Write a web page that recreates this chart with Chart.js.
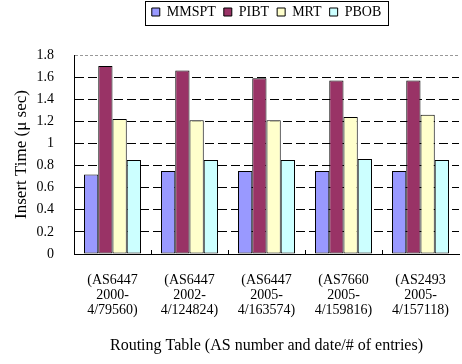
<!DOCTYPE html>
<html>
<head>
<meta charset="utf-8">
<script src="https://cdn.jsdelivr.net/npm/chart.js@4.4.0/dist/chart.umd.min.js"></script>
<style>
  html, body { margin: 0; padding: 0; background: #fff; }
</style>
</head>
<body>
<canvas id="chart" width="462" height="364"></canvas>
<script>
// routing tables on the x axis (one line per array entry)
const tableLabels = [
  ['(AS6447', '2000-', '4/79560)'],
  ['(AS6447', '2002-', '4/124824)'],
  ['(AS6447', '2005-', '4/163574)'],
  ['(AS7660', '2005-', '4/159816)'],
  ['(AS2493', '2005-', '4/157118)']
];

// insert time in micro seconds
const mmspt = [0.72, 0.75, 0.75, 0.75, 0.75];
const pibt  = [1.70, 1.66, 1.59, 1.57, 1.57];
const mrt   = [1.22, 1.21, 1.21, 1.24, 1.26];
const pbob  = [0.85, 0.85, 0.85, 0.86, 0.85];

const yMax = 1.8;
const yStep = 0.2;

const FONT = "'Liberation Serif', 'Times New Roman', serif";
Chart.defaults.font.family = FONT;
Chart.defaults.color = '#000';

function series(label, data, color) {
  return {
    label: label,
    data: data,
    backgroundColor: color,
    borderColor: '#000',
    borderWidth: 1,
    borderSkipped: false
  };
}

// legend sits over the plot area, with a frame round it
const legendFrame = {
  id: 'legendFrame',
  beforeInit(chart) {
    const legend = chart.legend;
    const fit = legend.fit;
    legend.fit = function () {
      fit.call(this);
      this.height = 55;
    };
  },
  afterLayout(chart) {
    const legend = chart.legend;
    legend.left = chart.chartArea.left;
    legend.right = chart.chartArea.right;
    legend.top = -3;
  },
  afterDraw(chart) {
    const boxes = chart.legend.legendHitBoxes;
    if (!boxes || !boxes.length) return;
    const first = boxes[0];
    const last = boxes[boxes.length - 1];
    const ctx = chart.ctx;
    ctx.save();
    ctx.strokeStyle = '#000';
    ctx.lineWidth = 1;
    ctx.strokeRect(Math.round(first.left) - 6.5, 1.5, Math.round(last.left + last.width - first.left) + 14, 24);
    ctx.restore();
  }
};

// small marks between the groups, pointing up from the x axis
const groupTicks = {
  id: 'groupTicks',
  afterDatasetsDraw(chart) {
    const x = chart.scales.x;
    const ctx = chart.ctx;
    ctx.save();
    ctx.strokeStyle = '#000';
    ctx.lineWidth = 1;
    ctx.beginPath();
    for (let i = 1; i < tableLabels.length; i++) {
      const px = Math.round(x.getPixelForValue(i - 0.5)) + 0.5;
      ctx.moveTo(px, x.top);
      ctx.lineTo(px, x.top - 4);
    }
    ctx.stroke();
    ctx.restore();
  }
};

new Chart(document.getElementById('chart'), {
  type: 'bar',
  data: {
    labels: tableLabels,
    datasets: [
      series('MMSPT', mmspt, '#9999FF'),
      series('PIBT', pibt, '#993366'),
      series('MRT', mrt, '#FFFFCC'),
      series('PBOB', pbob, '#CCFFFF')
    ]
  },
  options: {
    responsive: false,
    animation: false,
    devicePixelRatio: 1,
    layout: { padding: { left: 0, right: 3, top: 0, bottom: 9 } },
    datasets: {
      bar: { categoryPercentage: 0.74, barPercentage: 1 }
    },
    plugins: {
      legend: {
        position: 'top',
        labels: {
          boxWidth: 8,
          boxHeight: 8,
          padding: 8,
          color: '#000',
          font: { family: FONT, size: 14 }
        }
      },
      tooltip: { enabled: false }
    },
    scales: {
      x: {
        grid: { display: false },
        border: { display: true, color: '#000', width: 1 },
        ticks: {
          color: '#000',
          padding: 11,
          maxRotation: 0,
          autoSkip: false,
          font: { family: FONT, size: 14, lineHeight: 1.07 }
        },
        title: {
          display: true,
          text: 'Routing Table (AS number and date/# of entries)',
          color: '#000',
          padding: { top: 0, bottom: 0 },
          font: { family: FONT, size: 16 }
        },
        afterFit(scale) { scale.height = 101; }
      },
      y: {
        min: 0,
        max: yMax,
        ticks: {
          stepSize: yStep,
          color: '#000',
          padding: 20,
          font: { family: FONT, size: 14 },
          callback: value => String(Number(value.toFixed(1)))
        },
        grid: {
          drawTicks: false,
          color: ctx => (ctx.tick && ctx.tick.value >= yMax - 1e-9) ? '#999' : (ctx.tick && ctx.tick.value === 0 ? 'rgba(0,0,0,0)' : '#000'),
          lineWidth: 1
        },
        border: {
          display: true,
          color: '#000',
          width: 1,
          dash: ctx => (ctx.tick && ctx.tick.value >= yMax - 1e-9) ? [3, 2] : [9, 4]
        },
        title: {
          display: true,
          text: 'Insert Time (μ sec)',
          color: '#000',
          padding: { top: 11, bottom: 0 },
          font: { family: FONT, size: 17 }
        },
        afterFit(scale) { scale.width = 74; }
      }
    }
  },
  plugins: [legendFrame, groupTicks]
});
</script>
</body>
</html>
